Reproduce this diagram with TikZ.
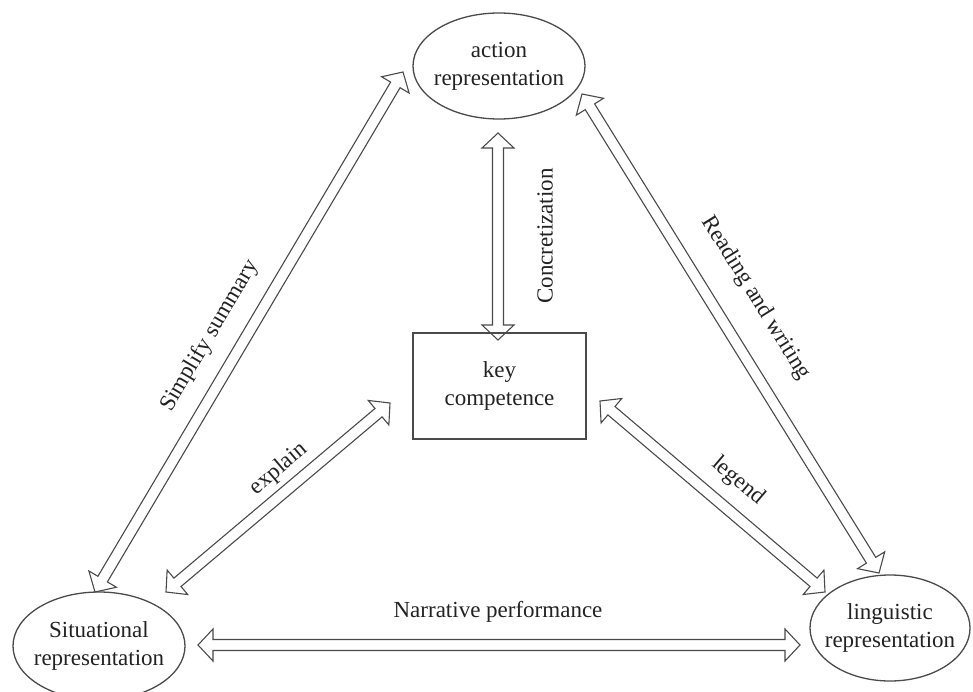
\documentclass[tikz,border=0pt]{standalone}
\usepackage{fontspec}
\setmainfont{Liberation Serif}
\usetikzlibrary{shapes.geometric,calc}
\definecolor{ln}{HTML}{4A4A4A}
\definecolor{tx}{HTML}{222222}
\tikzset{
  oval/.style={draw=ln, line width=1.3pt, ellipse, inner sep=0pt},
  boxnode/.style={draw=ln, line width=1.3pt, rectangle, inner sep=0pt},
  txt/.style={text=tx, font=\fontsize{23}{28}\selectfont, align=center, inner sep=0pt},
  lbl/.style={text=tx, font=\fontsize{23}{28}\selectfont, inner sep=0pt},
  hollow/.style={draw=ln, line width=1.1pt, line join=miter}
}
\newcommand{\hollowarrow}[2]{%
  \draw[hollow] (#1)
   -- ($(#1)!15pt!(#2)!16pt!90:(#2)$)
   -- ($(#1)!15pt!(#2)!5.5pt!90:(#2)$)
   -- ($(#2)!15pt!(#1)!5.5pt!-90:(#1)$)
   -- ($(#2)!15pt!(#1)!16pt!-90:(#1)$)
   -- (#2)
   -- ($(#2)!15pt!(#1)!16pt!90:(#1)$)
   -- ($(#2)!15pt!(#1)!5.5pt!90:(#1)$)
   -- ($(#1)!15pt!(#2)!5.5pt!-90:(#2)$)
   -- ($(#1)!15pt!(#2)!16pt!-90:(#2)$)
   -- cycle;}
\begin{document}
\begin{tikzpicture}[x=1pt, y=-1pt]
\useasboundingbox (0,0) rectangle (973,692);
% nodes
\node[oval, minimum width=172pt, minimum height=106pt] (act) at (499,66) {};
\node[txt] (actt) at (act) {action\\representation};
\node[oval, minimum width=172pt, minimum height=108pt] (sit) at (99,646) {};
\node[txt] (sitt) at (sit) {Situational\\representation};
\node[oval, minimum width=160pt, minimum height=106pt] (lin) at (890,628) {};
\node[txt] (lint) at (lin) {linguistic\\representation};
\node[boxnode, minimum width=173pt, minimum height=106pt] (key) at (499.5,386) {};
\node[txt] (keyt) at (key) {key\\competence};
% arrow end points
\coordinate (c1a) at (498,133);
\coordinate (c1b) at (498,340);
\coordinate (s1a) at (95,592);
\coordinate (s1b) at (403,72);
\coordinate (r1a) at (582,94);
\coordinate (r1b) at (879,573);
\coordinate (e1a) at (166,592);
\coordinate (e1b) at (390,403);
\coordinate (g1a) at (600,401);
\coordinate (g1b) at (825,592);
\coordinate (n1a) at (198,645);
\coordinate (n1b) at (800,645);
% arrows
\hollowarrow{c1a}{c1b}
\hollowarrow{s1a}{s1b}
\hollowarrow{r1a}{r1b}
\hollowarrow{e1a}{e1b}
\hollowarrow{g1a}{g1b}
\hollowarrow{n1a}{n1b}
% labels
\node[lbl, rotate=90] (lconc) at (545,236) {Concretization};
\node[lbl, rotate=59.4] (lsimp) at (210,336) {Simplify summary};
\node[lbl, rotate=-58.2] (lread) at (756,298) {Reading and writing};
\node[lbl, rotate=40.2] (lexp) at (279,469) {explain};
\node[lbl, rotate=-40.5] (lleg) at (738,481) {legend};
\node[lbl] (lnar) at (498,612) {Narrative performance};
\end{tikzpicture}
\end{document}
